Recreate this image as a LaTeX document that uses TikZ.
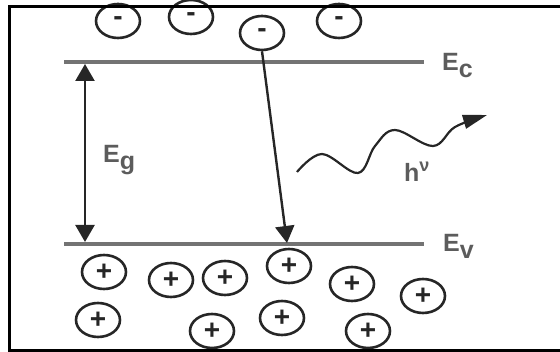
\documentclass[tikz,border=0pt]{standalone}
\usepackage{fontspec}
\setmainfont{Liberation Sans}
\usetikzlibrary{arrows.meta, shapes.geometric}

\definecolor{levelgray}{gray}{0.45}
\definecolor{inkgray}{gray}{0.15}

\begin{document}
\begin{tikzpicture}[x=1pt, y=-1pt,
  carrier/.style={draw=inkgray, ellipse, line width=2.6pt, minimum width=44pt,
                  minimum height=34pt, inner sep=0pt, text=inkgray,
                  font=\fontsize{28}{28}\selectfont\bfseries},
  level/.style={draw=levelgray, line width=3.5pt},
  lbl/.style={anchor=base west, inner sep=0pt, text=inkgray!75,
              font=\fontsize{25}{30}\selectfont\bfseries},
  arr/.style={draw=inkgray, line width=2.4pt, -{Triangle[length=17pt, width=19pt]}}
]
  \useasboundingbox (0,0) rectangle (560,352);

  % energy levels
  \coordinate (ecL) at (64,62);   \coordinate (ecR) at (424,62);
  \coordinate (evL) at (64,244);  \coordinate (evR) at (424,244);
  \draw[level] (ecL) -- (ecR);
  \draw[level] (evL) -- (evR);
  \node[lbl] (ec) at (442,71)  {E\raisebox{-7pt}{c}};
  \node[lbl] (ev) at (443,252) {E\raisebox{-7pt}{v}};

  % electrons in the conduction band
  \node[carrier] (e1) at (118,21) {\raisebox{-3pt}{-}};
  \node[carrier] (e2) at (191,17) {\raisebox{-3pt}{-}};
  \node[carrier] (e3) at (262,33) {\raisebox{-3pt}{-}};
  \node[carrier] (e4) at (339,21) {\raisebox{-3pt}{-}};

  % holes in the valence band
  \node[carrier] (h1)  at (104,272) {+};
  \node[carrier] (h2)  at (171,280) {+};
  \node[carrier] (h3)  at (225,278) {+};
  \node[carrier] (h4)  at (289,266) {+};
  \node[carrier] (h5)  at (352,284) {+};
  \node[carrier] (h6)  at (423,296) {+};
  \node[carrier] (h7)  at (98,320)  {+};
  \node[carrier] (h8)  at (212,331) {+};
  \node[carrier] (h9)  at (282,318) {+};
  \node[carrier] (h10) at (368,331) {+};

  % band gap
  \coordinate (gTop) at (85,64);
  \coordinate (gBot) at (85,242);
  \draw[arr, {Triangle[length=17pt, width=19pt]}-{Triangle[length=17pt, width=19pt]}] (gTop) -- (gBot);
  \node[lbl] (eg) at (103,163) {E\raisebox{-7pt}{g}};

  % recombination
  \coordinate (eHit) at (287,243);
  \draw[arr] (e3.south) -- (eHit);

  % emitted photon
  \draw[arr, -{Triangle[length=24pt, width=14pt]}, line width=2.2pt]
    plot[smooth, tension=0.6] coordinates {(297,172) (322,154) (358,173) (375,146)
      (395,130) (433,146) (455,127) (487,115)};
  \node[lbl] (hnu) at (404,182) {h\raisebox{10pt}{\fontsize{18}{18}\selectfont ν}};

  % frame
  \draw[line width=3pt] (560,7) -- (9.5,7) -- (9.5,350.5) -- (560,350.5);
\end{tikzpicture}
\end{document}
